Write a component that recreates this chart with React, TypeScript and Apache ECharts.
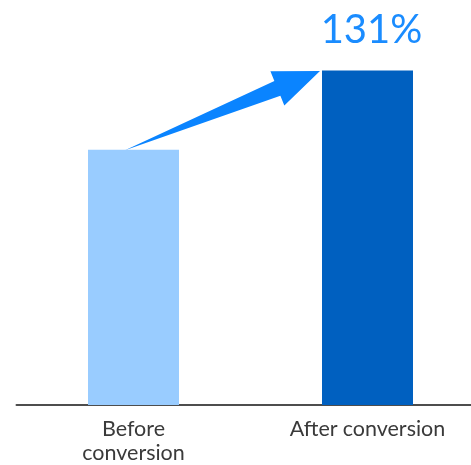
import React, { useEffect, useRef } from "react";
import * as echarts from "echarts";

const categories = ["Before\nconversion", "After conversion"];
const values = [100, 131];
const barColors = ["#99ccff", "#0060c0"];
const increaseLabel = Math.round((values[1] / values[0]) * 100) + "%";

const FONT = "Lato, 'Noto Sans', sans-serif";
const BAR_WIDTH = 91;

export default function App() {
  const ref = useRef<HTMLDivElement>(null);
  useEffect(() => {
    if (!ref.current) return;
    const chart = echarts.init(ref.current, null, { renderer: "svg" });
    chart.setOption({
      animation: false,
      grid: {
        left: 16.5,
        width: 468,
        top: 22,
        bottom: 60,
        containLabel: false,
        outerBoundsMode: "none",
      },
      xAxis: {
        type: "category",
        data: categories,
        axisLine: { lineStyle: { color: "#4d4d4d", width: 2 } },
        axisTick: { show: false },
        axisLabel: {
          color: "#3a3a3a",
          fontSize: 21.5,
          lineHeight: 24,
          fontFamily: FONT,
          margin: 11,
        },
      },
      yAxis: { type: "value", min: 0, max: 150, show: false },
      series: [
        {
          type: "bar",
          barWidth: BAR_WIDTH,
          data: values.map((v, i) => ({
            value: v,
            itemStyle: { color: barColors[i] },
            label:
              i === 1
                ? {
                    show: true,
                    position: "top",
                    distance: 23,
                    offset: [4, 0],
                    formatter: increaseLabel,
                    color: "#1a8cff",
                    fontSize: 40,
                    fontFamily: FONT,
                  }
                : { show: false },
          })),
          z: 2,
        },
        {
          type: "custom",
          z: 5,
          data: [[0, values[0], 1, values[1]]],
          renderItem: (params: any, api: any) => {
            const p0 = api.coord([api.value(0), api.value(1)]);
            const p1 = api.coord([api.value(2), api.value(3)]);
            const tail = [p0[0] - 8.5, p0[1] + 0.5];
            const tip = [p1[0] - BAR_WIDTH / 2 - 2, p1[1] + 0.5];
            const dx = tip[0] - tail[0];
            const dy = tip[1] - tail[1];
            const len = Math.sqrt(dx * dx + dy * dy);
            const ux = dx / len, uy = dy / len;
            const nx = -uy, ny = ux;
            const headLen = 46, headHalf = 18.5, shaftHalf = 8;
            const bx = tip[0] - ux * headLen, by = tip[1] - uy * headLen;
            const pts = [
              tail,
              [bx + nx * shaftHalf, by + ny * shaftHalf],
              [bx + nx * headHalf, by + ny * headHalf],
              tip,
              [bx - nx * headHalf, by - ny * headHalf],
              [bx - nx * shaftHalf, by - ny * shaftHalf],
            ];
            return {
              type: "polygon",
              shape: { points: pts },
              style: { fill: "#0a84ff" },
            };
          },
        },
      ],
    });
    return () => chart.dispose();
  }, []);
  return (
    <div
      ref={ref}
      style={{ position: "fixed", left: 0, top: 0, width: 471, height: 465 }}
    />
  );
}
